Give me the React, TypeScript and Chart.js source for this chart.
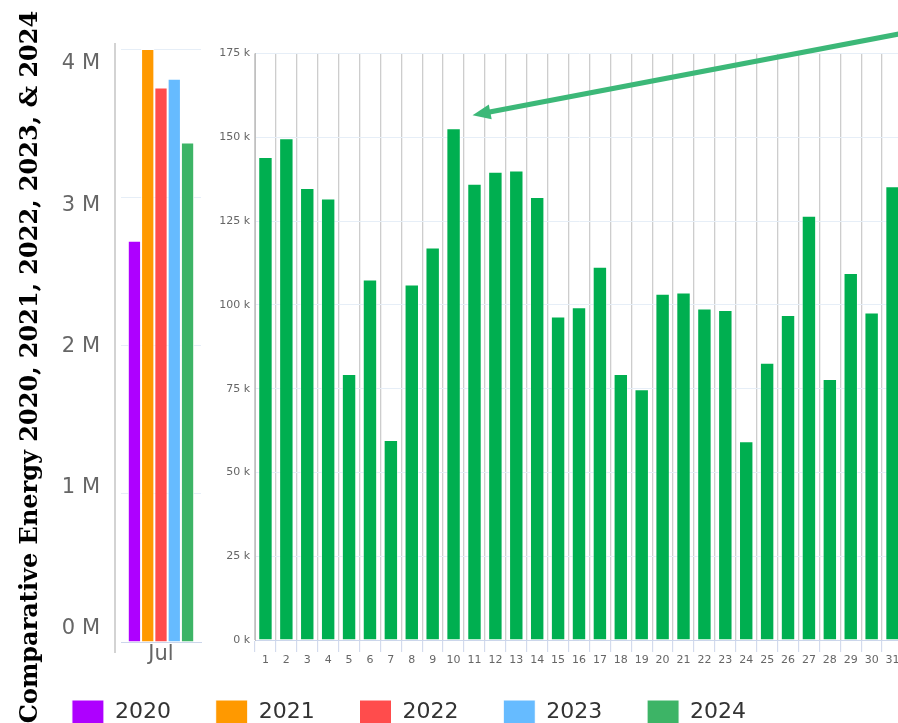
import React, { useEffect, useRef } from "react";
import { Chart, registerables } from "chart.js";

Chart.register(...registerables);

// ---- data ----
const titleText = "Comparative Energy 2020, 2021, 2022, 2023, & 2024";
const years = ["2020", "2021", "2022", "2023", "2024"];
const yearColors = ["#AE00FF", "#FF9900", "#FF4C4C", "#66BBFF", "#3DB466"];
const monthLabels = ["Jul"];
const julyTotals = [2706000, 4000000, 3740000, 3800000, 3370000];
const monthlyTickValues = [0, 1000000, 2000000, 3000000, 4000000];

const days = [
  "1", "2", "3", "4", "5", "6", "7", "8", "9", "10", "11", "12", "13", "14", "15", "16",
  "17", "18", "19", "20", "21", "22", "23", "24", "25", "26", "27", "28", "29", "30", "31",
];
const daily2024 = [
  144100, 149700, 134900, 131700, 79400, 107600, 59700, 106100, 117100, 152700, 136100,
  139700, 140100, 132200, 96500, 99300, 111400, 79400, 74800, 103300, 103700, 98900, 98500,
  59300, 82700, 97000, 126600, 77900, 109500, 97700, 135400,
];
const dailyColor = "#00AF50";
const arrowColor = "#3CB878";

const sans = '"DejaVu Sans", Verdana, sans-serif';

const leftAxisLine = {
  id: "leftAxisLine",
  afterDraw(chart: any) {
    const { ctx, chartArea: a } = chart;
    ctx.save();
    ctx.strokeStyle = "#c4c4c4";
    ctx.lineWidth = 1.5;
    ctx.beginPath();
    ctx.moveTo(a.left - 6, a.top - 6);
    ctx.lineTo(a.left - 6, a.bottom + 11);
    ctx.stroke();
    ctx.restore();
  },
};

const peakArrow = {
  id: "peakArrow",
  afterDraw(chart: any) {
    const { ctx } = chart;
    const xs = chart.scales.x;
    const ys = chart.scales.y;
    const peak = daily2024.indexOf(Math.max(...daily2024));
    const tipX = xs.getPixelForValue(peak) + 19;
    const tipY = ys.getPixelForValue(daily2024[peak]) - 13;
    const dx = 425;
    const dy = -81;
    const len = Math.hypot(dx, dy);
    const ux = dx / len;
    const uy = dy / len;
    const headLen = 18;
    const headHalf = 7.5;
    const bx = tipX + ux * headLen;
    const by = tipY + uy * headLen;
    ctx.save();
    ctx.strokeStyle = arrowColor;
    ctx.fillStyle = arrowColor;
    ctx.lineWidth = 5;
    ctx.beginPath();
    ctx.moveTo(bx - ux * 2, by - uy * 2);
    ctx.lineTo(tipX + ux * 700, tipY + uy * 700);
    ctx.stroke();
    ctx.beginPath();
    ctx.moveTo(tipX, tipY);
    ctx.lineTo(bx - uy * headHalf, by + ux * headHalf);
    ctx.lineTo(bx + uy * headHalf, by - ux * headHalf);
    ctx.closePath();
    ctx.fill();
    ctx.restore();
  },
};

export default function App() {
  const leftRef = useRef<HTMLCanvasElement>(null);
  const rightRef = useRef<HTMLCanvasElement>(null);

  useEffect(() => {
    const left = new Chart(leftRef.current as HTMLCanvasElement, {
      type: "bar",
      data: {
        labels: monthLabels,
        datasets: years.map((y, i) => ({
          label: y,
          data: [julyTotals[i]],
          xAxisID: "x",
          yAxisID: "y",
          backgroundColor: yearColors[i],
          borderColor: "#ffffff",
          borderWidth: 1,
          barPercentage: 1,
          categoryPercentage: 0.83,
        })),
      },
      options: {
        responsive: true,
        maintainAspectRatio: false,
        animation: false,
        layout: { padding: { top: 0, right: 80, bottom: 0, left: 0 } },
        plugins: {
          tooltip: { enabled: false },
          title: {
            display: true,
            position: "left",
            text: titleText,
            color: "#000000",
            font: { family: '"DejaVu Serif", serif', size: 24, weight: "bold" },
            padding: { top: 16.4, bottom: 0 },
          },
          legend: {
            display: true,
            position: "bottom",
            labels: {
              boxWidth: 32,
              boxHeight: 24,
              padding: 44.8,
              color: "#333333",
              font: { family: sans, size: 22 },
            },
          },
        },
        scales: {
          x: {
            grid: { display: false },
            border: { color: "#ccd6eb" },
            ticks: {
              color: "#666666",
              font: { family: sans, size: 21 },
              mirror: true,
              padding: -25.6,
            },
            afterFit: (s: any) => {
              s.height = 13.2;
            },
          },
          xPad: {
            type: "linear",
            position: "top",
            ticks: { display: false },
            grid: { display: false },
            border: { display: false },
            afterFit: (s: any) => {
              s.height = 49;
            },
          },
          y: {
            position: "left",
            min: 0,
            max: 4000000,
            ticks: { display: false, stepSize: 1000000 },
            grid: { color: "#e6eef7", drawTicks: false },
            border: { display: false },
            afterFit: (s: any) => {
              s.width = 0;
            },
          },
          yLabels: {
            type: "linear",
            position: "left",
            min: -92700,
            max: 4104800,
            afterBuildTicks: (s: any) => {
              s.ticks = monthlyTickValues.map((v) => ({ value: v }));
            },
            ticks: {
              callback: (v: any) => `${Number(v) / 1000000} M`,
              color: "#666666",
              font: { family: sans, size: 21 },
              padding: 13,
            },
            grid: { display: false },
            border: { display: false },
            afterFit: (s: any) => {
              s.width = 75.8;
            },
          },
          yPad: {
            type: "linear",
            position: "right",
            ticks: { display: false },
            grid: { display: false },
            border: { display: false },
            afterFit: (s: any) => {
              s.width = 617;
            },
          },
        },
      } as any,
      plugins: [leftAxisLine],
    });

    const right = new Chart(rightRef.current as HTMLCanvasElement, {
      type: "bar",
      data: {
        labels: days,
        datasets: [
          {
            label: "2024",
            data: daily2024,
            backgroundColor: dailyColor,
            borderColor: "rgba(255,255,255,0.55)",
            borderWidth: 1,
            barPercentage: 0.69,
            categoryPercentage: 1,
          },
        ],
      },
      options: {
        responsive: true,
        maintainAspectRatio: false,
        animation: false,
        layout: { padding: { top: 53.5, right: 7, bottom: 53, left: 0 } },
        plugins: {
          legend: { display: false },
          tooltip: { enabled: false },
        },
        scales: {
          x: {
            grid: {
              color: "#cdcdcd",
              lineWidth: 1.3,
              tickColor: "#ccd6eb",
              tickWidth: 1,
              tickLength: 12,
              offset: true,
            },
            border: { color: "#ccd6eb" },
            ticks: {
              color: "#666666",
              font: { family: sans, size: 11 },
              padding: 2,
              maxRotation: 0,
              autoSkip: false,
            },
            afterFit: (s: any) => {
              s.height = 30;
            },
          },
          y: {
            min: 0,
            max: 175000,
            ticks: {
              stepSize: 25000,
              callback: (v: any) => `${Number(v) / 1000} k`,
              color: "#666666",
              font: { family: sans, size: 11 },
              padding: 5,
            },
            grid: { color: "#e6eef7", drawTicks: false },
            border: { color: "#c0c0c0" },
            afterFit: (s: any) => {
              s.width = 55;
            },
          },
        },
      } as any,
      plugins: [peakArrow],
    });

    return () => {
      left.destroy();
      right.destroy();
    };
  }, []);

  return (
    <div
      style={{
        position: "fixed",
        left: 0,
        top: 0,
        width: 898,
        height: 723,
        overflow: "hidden",
        background: "#ffffff",
      }}
    >
      <div style={{ position: "absolute", left: 0, top: 0, width: 898, height: 734 }}>
        <canvas ref={leftRef} />
      </div>
      <div style={{ position: "absolute", left: 200, top: 0, width: 710, height: 723 }}>
        <canvas ref={rightRef} />
      </div>
    </div>
  );
}
